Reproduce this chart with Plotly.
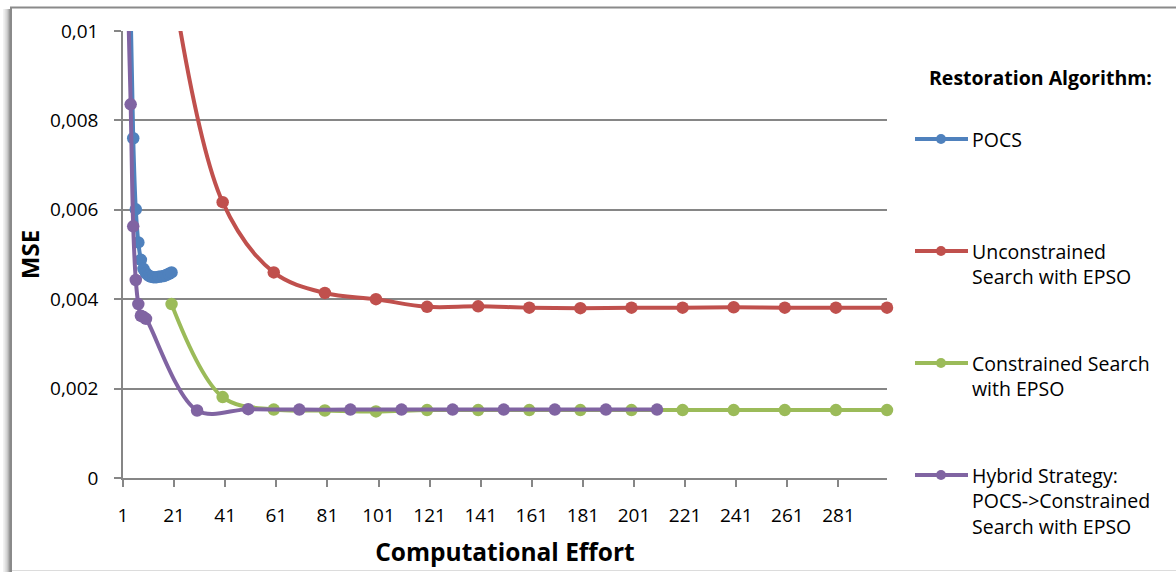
import numpy as np
import plotly.graph_objects as go

# ---- data -------------------------------------------------------------
pocs_x = list(range(1, 21))
pocs_y = [0.034, 0.021, 0.014, 0.0105, 0.0076, 0.00601, 0.00527, 0.00488,
          0.00468, 0.00458, 0.00453, 0.0045, 0.00449, 0.00449, 0.0045,
          0.00451, 0.00452, 0.00454, 0.00457, 0.0046]

uncon_x = list(range(20, 301, 20))
uncon_y = [0.0112, 0.00617, 0.0046, 0.00414, 0.004, 0.00383, 0.00384,
           0.00381, 0.0038, 0.00381, 0.00381, 0.00382, 0.00381, 0.00381,
           0.00381]

con_x = list(range(20, 301, 20))
con_y = [0.00389, 0.00181, 0.00153, 0.00151, 0.00149, 0.00152, 0.00152,
         0.00152, 0.00152, 0.00152, 0.00152, 0.00152, 0.00152, 0.00152,
         0.00152]

hyb_x = [1, 2, 3, 4, 5, 6, 7, 8, 9, 10, 30, 50, 70, 90, 110, 130, 150,
         170, 190, 210]
hyb_y = [0.03, 0.018, 0.0108, 0.00836, 0.00563, 0.00443, 0.00389, 0.00363,
         0.0036, 0.00356, 0.00151, 0.00154, 0.00153, 0.00153, 0.00153,
         0.00153, 0.00153, 0.00153, 0.00153, 0.00153]

series_names = ["POCS", "Unconstrained<br>Search with EPSO",
                "Constrained Search<br>with EPSO",
                "Hybrid Strategy:<br>POCS->Constrained<br>Search with EPSO"]
series_colors = ["#4F81BD", "#C0504D", "#9BBB59", "#8064A2"]

x_ticks = list(range(1, 300, 20))
y_ticks = [0, 0.002, 0.004, 0.006, 0.008, 0.01]
Y_MAX = 0.01

# ---- geometry ---------------------------------------------------------
W, H = 1176, 572
ML, MR, MT, MB = 123, 289, 31, 94
PW, PH = W - ML - MR, H - MT - MB


def px(x):
    return (x - ML) / PW


def py(y):
    return (H - MB - y) / PH


FONT = "Open Sans"
GRID = "#868686"

fig = go.Figure()

for xs, ys, name, col in zip([pocs_x, uncon_x, con_x, hyb_x],
                             [pocs_y, uncon_y, con_y, hyb_y],
                             series_names, series_colors):
    xs = np.array(xs)
    ys = np.array(ys)
    # smoothed line, clipped to the plot area
    fig.add_trace(go.Scatter(x=xs, y=ys, mode="lines",
                             line=dict(color=col, width=4, shape="spline",
                                       smoothing=1.0),
                             showlegend=False, hoverinfo="skip"))
    # markers for points inside the value range (not clipped at the edges)
    m = ys <= Y_MAX
    fig.add_trace(go.Scatter(x=xs[m], y=ys[m], mode="markers",
                             name=name.replace("<br>", " "),
                             marker=dict(color=col, size=12.5),
                             cliponaxis=False, showlegend=False))

shapes = []
annotations = []

# chart border with a soft shadow on the left
for i, op in enumerate([0.05, 0.08, 0.12, 0.16, 0.22, 0.3, 0.4]):
    xx = 3 + i
    shapes.append(dict(type="line", xref="paper", yref="paper",
                       x0=px(xx + 0.5), x1=px(xx + 0.5), y0=py(9), y1=py(572),
                       line=dict(color="rgba(0,0,0,%.2f)" % op, width=1)))
shapes.append(dict(type="line", xref="paper", yref="paper",
                   x0=px(11), x1=px(11), y0=py(7), y1=py(572),
                   line=dict(color="#8a8a8a", width=2)))
shapes.append(dict(type="line", xref="paper", yref="paper",
                   x0=px(10), x1=px(1200), y0=py(7.5), y1=py(7.5),
                   line=dict(color="#8a8a8a", width=2)))
shapes.append(dict(type="line", xref="paper", yref="paper",
                   x0=px(12), x1=px(1200), y0=py(570.5), y1=py(570.5),
                   line=dict(color="#dcdcdc", width=1)))

# legend
annotations.append(dict(xref="paper", yref="paper", x=px(927), y=py(77),
                        xanchor="left", yanchor="middle", showarrow=False,
                        text="<b>Restoration Algorithm:</b>",
                        font=dict(family=FONT, size=19.5, color="#000")))
leg_y = [139, 251, 363, 475]
for yy, name, col in zip(leg_y, series_names, series_colors):
    shapes.append(dict(type="line", xref="paper", yref="paper",
                       x0=px(915), x1=px(968), y0=py(yy), y1=py(yy),
                       line=dict(color=col, width=4)))
    shapes.append(dict(type="circle", xref="paper", yref="paper",
                       x0=px(936), x1=px(946), y0=py(yy - 5),
                       y1=py(yy + 5), fillcolor=col,
                       line=dict(color=col, width=0)))
    annotations.append(dict(xref="paper", yref="paper", x=px(970),
                            y=py(yy - 15.5), xanchor="left", yanchor="top",
                            align="left", showarrow=False, text=name,
                            font=dict(family=FONT, size=19.5, color="#000")))

fig.update_layout(
    width=W, height=H,
    margin=dict(l=ML, r=MR, t=MT, b=MB, autoexpand=False),
    paper_bgcolor="white", plot_bgcolor="white",
    separators=", ",
    font=dict(family=FONT, size=19, color="#000"),
    shapes=shapes, annotations=annotations,
    xaxis=dict(range=[1, 300], tickvals=x_ticks, showgrid=False,
               zeroline=False, showline=True, linecolor=GRID, linewidth=1.5,
               ticks="outside", ticklen=7, tickcolor=GRID, tickwidth=1.5,
               ticklabelstandoff=12,
               tickfont=dict(family=FONT, size=19, color="#000"),
               title=dict(text="<b>Computational Effort</b>", standoff=17,
                          font=dict(family=FONT, size=24.5, color="#000"))),
    yaxis=dict(range=[0, Y_MAX], tickvals=y_ticks, showgrid=True,
               gridcolor=GRID, gridwidth=1.5, zeroline=False,
               showline=True, linecolor=GRID, linewidth=1.5,
               ticks="outside", ticklen=7, tickcolor=GRID, tickwidth=1.5,
               ticklabelstandoff=12,
               tickfont=dict(family=FONT, size=19, color="#000"),
               title=dict(text="<b>MSE</b>", standoff=4,
                          font=dict(family=FONT, size=24, color="#000"))),
)

fig.write_html("out.html")
